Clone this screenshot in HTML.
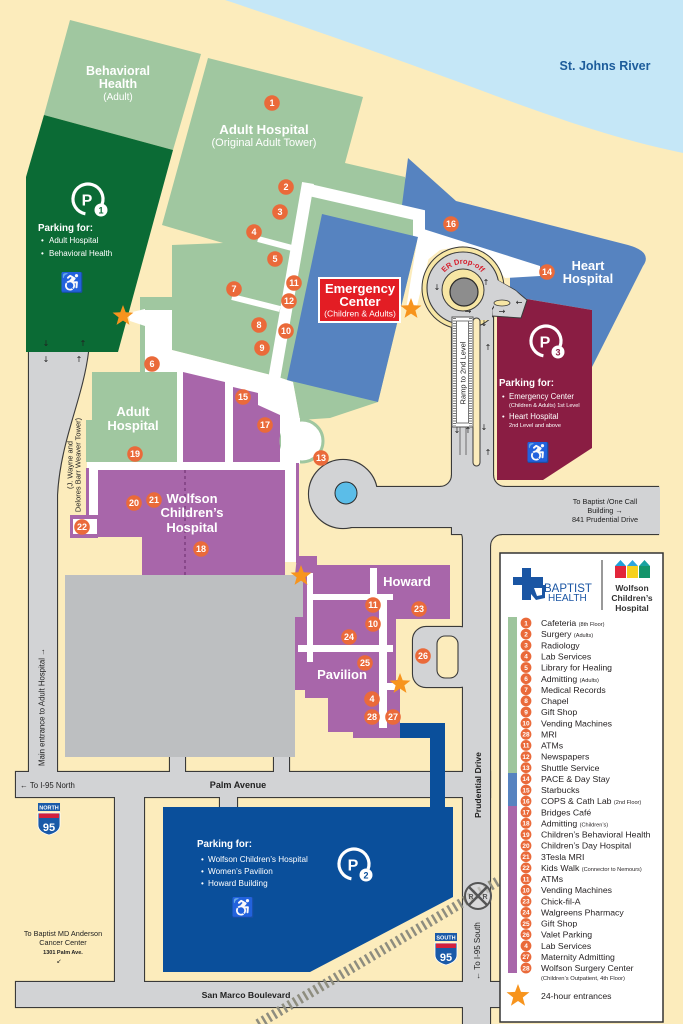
<!DOCTYPE html>
<html><head><meta charset="utf-8"><style>
html,body{margin:0;padding:0;background:#fcecbc;}
svg{display:block}
text{font-family:"Liberation Sans",Arial,sans-serif}
.n{font-size:9px;font-weight:bold;fill:#fff;text-anchor:middle}
.w{fill:#fff;font-weight:bold;text-anchor:middle}
.li{font-size:8.7px;fill:#231f20}
.ln{font-size:6.5px;font-weight:bold;fill:#fff;text-anchor:middle}
.sm{font-size:5.6px}
.ar{font-size:8px;fill:#222;font-family:"DejaVu Sans",sans-serif}
</style></head><body>
<svg width="683" height="1024" viewBox="0 0 683 1024" xmlns="http://www.w3.org/2000/svg">
<rect width="683" height="1024" fill="#fcecbc"/>
<path d="M225,0 C300,25 400,60 480,90 S620,140 683,153 L683,0 Z" fill="#c5e7f7"/>
<text x="605" y="70" text-anchor="middle" font-size="12.5" font-weight="bold" fill="#1d5c9b">St. Johns River</text>

<!-- ROADS: stroke pass -->
<g fill="#d2d3d5" stroke="#3a3a3a" stroke-width="2.2">
<path d="M29,352 L88,352 C82,400 60,440 57,495 L57,785 L29,785 Z"/>
<rect x="16" y="772" width="474" height="25"/>
<rect x="16" y="982" width="484" height="25"/>
<rect x="115" y="790" width="29" height="200"/>
<rect x="463" y="500" width="27" height="530"/>
<rect x="452" y="487" width="206" height="47"/>
<rect x="452" y="295" width="41" height="200"/>
<circle cx="343" cy="494" r="34"/>
<rect x="343" y="487" width="120" height="40"/>
<rect x="170" y="750" width="15" height="25"/>
<rect x="274" y="750" width="15" height="25"/>
<rect x="220" y="794" width="17" height="16"/>
<rect x="413" y="627" width="60" height="60" rx="13"/>
<path d="M440,487 A12,12 0 0 0 452,475 L452,487 Z"/>
<path d="M493,475 A12,12 0 0 0 505,487 L493,487 Z"/>
<path d="M451,527 A12,12 0 0 1 463,539 L463,527 Z"/>
<path d="M490,546 A12,12 0 0 1 502,534 L490,534 Z"/>
</g>
<g fill="#d2d3d5" stroke="none">
<path d="M29,352 L88,352 C82,400 60,440 57,495 L57,785 L29,785 Z"/>
<rect x="16" y="772" width="474" height="25"/>
<rect x="16" y="982" width="484" height="25"/>
<rect x="115" y="790" width="29" height="200"/>
<rect x="463" y="500" width="27" height="530"/>
<rect x="452" y="487" width="208" height="47"/>
<rect x="452" y="295" width="41" height="200"/>
<circle cx="343" cy="494" r="34"/>
<rect x="343" y="487" width="120" height="40"/>
<rect x="170" y="750" width="15" height="25"/>
<rect x="274" y="750" width="15" height="25"/>
<rect x="220" y="794" width="17" height="16"/>
<rect x="413" y="627" width="60" height="60" rx="13"/>
<path d="M440,487 A12,12 0 0 0 452,475 L452,487 Z"/>
<path d="M493,475 A12,12 0 0 0 505,487 L493,487 Z"/>
<path d="M451,527 A12,12 0 0 1 463,539 L463,527 Z"/>
<path d="M490,546 A12,12 0 0 1 502,534 L490,534 Z"/>
</g>
<rect x="437" y="636" width="21" height="42" rx="8" fill="#fcecbc" stroke="#3a3a3a" stroke-width="1.1"/>
<circle cx="346" cy="493" r="11" fill="#5bbde8" stroke="#2a2a2a" stroke-width="1"/>

<!-- railroad -->
<line x1="258" y1="1024" x2="500" y2="880" stroke="#8e8d7f" stroke-width="10" stroke-dasharray="2.5 3.5"/>
<g transform="translate(478,896)">
<circle r="13" fill="#dcdcdc" fill-opacity="0.6" stroke="#555" stroke-width="2"/>
<line x1="-9" y1="-9" x2="9" y2="9" stroke="#555" stroke-width="2.5"/>
<line x1="9" y1="-9" x2="-9" y2="9" stroke="#555" stroke-width="2.5"/>
<text x="-7" y="3" font-size="7" font-weight="bold" fill="#555" text-anchor="middle">R</text>
<text x="7" y="3" font-size="7" font-weight="bold" fill="#555" text-anchor="middle">R</text>
</g>

<!-- BUILDINGS -->
<polygon points="70,20 201,54 173,150 44,115" fill="#a0c7a0"/>
<polygon points="44,115 173,150 118,352 26,352 26,177" fill="#0b6b35"/>
<polygon points="208,58 363,97 345,163 405,177 418,237 378,402 330,418 300,420 293,382 275,376 172,350 172,245 223,243 162,225" fill="#a0c7a0"/>
<rect x="140" y="297" width="32" height="75" fill="#a0c7a0"/>
<polygon points="145,310 172,310 172,350 275,376 293,382 300,420 297,562 285,562 285,470 98,470 98,517 87,517 87,462 145,462" fill="#fff"/>
<polygon points="128,313 145,309 145,326 130,321" fill="#fff"/>
<polygon points="92,372 177,372 177,462 86,462 86,420 92,420" fill="#a0c7a0"/>
<rect x="70" y="515" width="28" height="23" fill="#a866aa"/>
<rect x="73" y="519" width="24" height="15" fill="#fff"/>
<rect x="86" y="468" width="3" height="50" fill="#a866aa"/>
<polygon points="183,372 225,382 225,462 183,462" fill="#a866aa"/>
<polygon points="233,387 258,393 258,405 280,415 280,462 233,462" fill="#a866aa"/>
<circle cx="302" cy="441" r="21" fill="#fff" stroke="#a0c7a0" stroke-width="3"/>
<rect x="281" y="418" width="19" height="46" fill="#fff"/>
<polygon points="98,470 285,470 285,575 142,575 142,537 98,537" fill="#a866aa"/>
<line x1="185" y1="470" x2="185" y2="575" stroke="#7d3f80" stroke-width="1.5" stroke-dasharray="3 3"/>
<rect x="296" y="463" width="3" height="100" fill="#a866aa"/>

<!-- Howard / Pavilion -->
<polygon points="297,556 317,556 317,565 450,565 450,619 396,619 396,680 400,680 400,738 353,738 353,732 328,732 328,698 305,698 305,690 295,690 295,575" fill="#a866aa"/>
<g fill="#fff">
<rect x="307" y="573" width="6" height="89"/>
<rect x="313" y="594" width="80" height="6"/>
<rect x="370" y="568" width="7" height="32"/>
<rect x="298" y="645" width="95" height="7"/>
<rect x="379" y="600" width="8" height="128"/>
<rect x="387" y="683" width="10" height="7"/>
</g>
<polygon points="65,575 303,575 303,617 295,617 295,757 65,757" fill="#bdbfc1"/>

<!-- Heart hospital -->
<path d="M408,158 L456,201 L628,245 Q653,252 643,266 L592,367 L592,310 L515,297 L510,287 L510,270 L540,267 L422,233 L402,205 Z" fill="#5683c0"/>
<!-- white corridors -->
<polyline points="305,189 419,215 419,240" fill="none" stroke="#fff" stroke-width="12" stroke-linejoin="miter"/>
<line x1="308" y1="183" x2="274" y2="380" stroke="#fff" stroke-width="12"/>
<line x1="258" y1="239" x2="292" y2="248" stroke="#fff" stroke-width="6"/>
<line x1="232" y1="297" x2="280" y2="309" stroke="#fff" stroke-width="6"/>
<polygon points="414,226 540,266 540,276 505,278 490,260 463,246 440,250 425,262 418,245" fill="#fff"/>
<polygon points="418,236 433,241 416,310 406,309" fill="#fff"/>
<!-- ER -->
<polygon points="322,214 418,237 378,402 287,380" fill="#5683c0"/>
<rect x="319" y="278" width="81" height="44" fill="#e31d24" stroke="#fff" stroke-width="2"/>
<text x="360" y="293" class="w" font-size="13">Emergency</text>
<text x="360" y="306" class="w" font-size="13">Center</text>
<text x="360" y="316.5" fill="#fff" font-size="8.6" text-anchor="middle">(Children &amp; Adults)</text>

<!-- P3 -->
<polygon points="497,294 592,310 592,448 543,480 497,480" fill="#8a1d43"/>

<!-- ER loop -->
<circle cx="463" cy="288" r="41" fill="#f7e6a4" stroke="#3a3a3a" stroke-width="1"/>
<polygon points="490,276 515,290 527,300 521,318 492,316" fill="#d2d3d5" stroke="#3a3a3a" stroke-width="1"/>
<circle cx="463" cy="288" r="36" fill="#d2d3d5" stroke="#3a3a3a" stroke-width="1.1"/>
<rect x="453" y="298" width="39" height="22" fill="#d2d3d5"/>
<polygon points="494,278 516,291 526,301 520,316 494,314" fill="#d2d3d5"/>
<ellipse cx="502" cy="303" rx="8" ry="3" fill="#f7e6a4" stroke="#3a3a3a" stroke-width="0.8"/>
<circle cx="463" cy="290" r="21" fill="#f7e6a4" stroke="#3a3a3a" stroke-width="1"/>
<circle cx="464" cy="292" r="14" fill="#8d8d8d" stroke="#2a2a2a" stroke-width="1.2"/>
<path id="erarc" d="M440.4,279.8 A24,24 0 0 1 485.6,279.8" fill="none"/>
<text font-size="7.5" font-weight="bold" fill="#d6202e"><textPath href="#erarc" startOffset="50%" text-anchor="middle">ER Drop-off</textPath></text>
<rect x="473" y="318" width="7" height="148" rx="3.5" fill="#fcecbc" stroke="#3a3a3a" stroke-width="1"/>
<rect x="452" y="317" width="21" height="110" fill="#fff" stroke="#555" stroke-width="1"/>
<line x1="454.5" y1="318" x2="454.5" y2="426" stroke="#777" stroke-width="3" stroke-dasharray="1 1.5"/>
<line x1="470.5" y1="318" x2="470.5" y2="426" stroke="#777" stroke-width="3" stroke-dasharray="1 1.5"/>
<rect x="456.5" y="321" width="12" height="102" fill="#fff" stroke="#555" stroke-width="0.8"/>
<text transform="translate(465.5,373) rotate(-90)" font-size="7.5" text-anchor="middle" fill="#222">Ramp to 2nd Level</text>
<line x1="460" y1="427" x2="460" y2="455" stroke="#555" stroke-width="0.8"/>
<line x1="466" y1="427" x2="466" y2="455" stroke="#555" stroke-width="0.8"/>
<text x="437" y="290" class="ar" text-anchor="middle">↓</text>
<text x="486" y="285" class="ar" text-anchor="middle">↑</text>
<text x="468" y="314" class="ar" text-anchor="middle">→</text>
<text x="502" y="314" class="ar" text-anchor="middle">→</text>
<text x="519" y="305" class="ar" text-anchor="middle">←</text>
<text x="484" y="326" class="ar" text-anchor="middle">↓</text>
<text x="488" y="350" class="ar" text-anchor="middle">↑</text>
<text x="484" y="430" class="ar" text-anchor="middle">↓</text>
<text x="488" y="455" class="ar" text-anchor="middle">↑</text>
<text x="457" y="433" class="ar" text-anchor="middle" font-size="6">↓</text>
<text x="468" y="433" class="ar" text-anchor="middle" font-size="6">↑</text>
<text x="46" y="346" class="ar" text-anchor="middle" font-size="6">↓</text>
<text x="83" y="346" class="ar" text-anchor="middle" font-size="6">↑</text>
<text x="46" y="362" class="ar" text-anchor="middle" font-size="6">↓</text>
<text x="79" y="362" class="ar" text-anchor="middle" font-size="6">↑</text>

<!-- P2 bridge + lot -->
<rect x="400" y="723" width="45" height="15" fill="#0a4f9b"/>
<rect x="430" y="723" width="15" height="90" fill="#0a4f9b"/>
<polygon points="163,807 453,807 453,897 310,972 163,972" fill="#0a4f9b"/>

<!-- building labels -->
<text x="118" y="75" class="w" font-size="12.5">Behavioral</text>
<text x="118" y="88" class="w" font-size="12.5">Health</text>
<text x="118" y="100" fill="#fff" font-size="10" text-anchor="middle">(Adult)</text>
<text x="264" y="134" class="w" font-size="13.2">Adult Hospital</text>
<text x="264" y="146" fill="#fff" font-size="11" text-anchor="middle">(Original Adult Tower)</text>
<text x="588" y="270" class="w" font-size="12.8">Heart</text>
<text x="588" y="283" class="w" font-size="12.8">Hospital</text>
<text x="133" y="416" class="w" font-size="13">Adult</text>
<text x="133" y="430" class="w" font-size="13">Hospital</text>
<text x="192" y="503" class="w" font-size="13">Wolfson</text>
<text x="192" y="517" class="w" font-size="13">Children’s</text>
<text x="192" y="532" class="w" font-size="13">Hospital</text>
<text x="407" y="586" class="w" font-size="13">Howard</text>
<text x="342" y="679" class="w" font-size="13">Pavilion</text>

<!-- P1 -->
<path d="M102.1,204.1 A15,15 0 1 0 85.4,213.8" fill="none" stroke="#fff" stroke-width="3.2"/>
<text x="87" y="205.5" class="w" font-size="16">P</text>
<circle cx="101" cy="210" r="6.5" fill="#fff"/>
<text x="101" y="213.3" font-size="9" font-weight="bold" fill="#0b6b35" text-anchor="middle">1</text>
<text x="38" y="231" fill="#fff" font-size="9.8" font-weight="bold">Parking for:</text>
<text x="41" y="243" fill="#fff" font-size="8">•</text><text x="49" y="243" fill="#fff" font-size="8">Adult Hospital</text>
<text x="41" y="256" fill="#fff" font-size="8">•</text><text x="49" y="256" fill="#fff" font-size="8">Behavioral Health</text>
<text x="72" y="289" fill="#fff" font-size="19" text-anchor="middle" font-family="DejaVu Sans,sans-serif">♿</text>

<!-- P3 -->
<path d="M560.1,346.1 A15,15 0 1 0 543.4,355.8" fill="none" stroke="#fff" stroke-width="3.2"/>
<text x="545" y="347.5" class="w" font-size="16">P</text>
<circle cx="558" cy="352" r="6.5" fill="#fff"/>
<text x="558" y="355.3" font-size="9" font-weight="bold" fill="#8a1d43" text-anchor="middle">3</text>
<text x="499" y="386" fill="#fff" font-size="9.8" font-weight="bold">Parking for:</text>
<text x="502" y="399" fill="#fff" font-size="7.5">•</text><text x="509" y="399" fill="#fff" font-size="7.8">Emergency Center</text>
<text x="509" y="407" fill="#fff" font-size="5.6">(Children &amp; Adults) 1st Level</text>
<text x="502" y="419" fill="#fff" font-size="7.5">•</text><text x="509" y="419" fill="#fff" font-size="7.8">Heart Hospital</text>
<text x="509" y="427" fill="#fff" font-size="5.6">2nd Level and above</text>
<text x="538" y="459" fill="#fff" font-size="19" text-anchor="middle" font-family="DejaVu Sans,sans-serif">♿</text>

<!-- P2 -->
<path d="M368.1,869.1 A15,15 0 1 0 351.4,878.8" fill="none" stroke="#fff" stroke-width="3.2"/>
<text x="353" y="870.5" class="w" font-size="16">P</text>
<circle cx="366" cy="875" r="6.5" fill="#fff"/>
<text x="366" y="878.3" font-size="9" font-weight="bold" fill="#0a4f9b" text-anchor="middle">2</text>
<text x="197" y="847" fill="#fff" font-size="9.8" font-weight="bold">Parking for:</text>
<text x="201" y="862" fill="#fff" font-size="8">•</text><text x="208" y="862" fill="#fff" font-size="8.2">Wolfson Children’s Hospital</text>
<text x="201" y="874" fill="#fff" font-size="8">•</text><text x="208" y="874" fill="#fff" font-size="8.2">Women’s Pavilion</text>
<text x="201" y="886" fill="#fff" font-size="8">•</text><text x="208" y="886" fill="#fff" font-size="8.2">Howard Building</text>
<text x="243" y="914" fill="#fff" font-size="19" text-anchor="middle" font-family="DejaVu Sans,sans-serif">♿</text>

<!-- stars -->
<g fill="#f7941d">
<polygon transform="translate(123,316) scale(1.1)" points="0,-10 2.47,-3.4 9.51,-3.09 3.99,1.3 5.88,8.09 0,4.2 -5.88,8.09 -3.99,1.3 -9.51,-3.09 -2.47,-3.4"/>
<polygon transform="translate(411,309) scale(1.1)" points="0,-10 2.47,-3.4 9.51,-3.09 3.99,1.3 5.88,8.09 0,4.2 -5.88,8.09 -3.99,1.3 -9.51,-3.09 -2.47,-3.4"/>
<polygon transform="translate(301,576) scale(1.1)" points="0,-10 2.47,-3.4 9.51,-3.09 3.99,1.3 5.88,8.09 0,4.2 -5.88,8.09 -3.99,1.3 -9.51,-3.09 -2.47,-3.4"/>
<polygon transform="translate(400,684) scale(1.1)" points="0,-10 2.47,-3.4 9.51,-3.09 3.99,1.3 5.88,8.09 0,4.2 -5.88,8.09 -3.99,1.3 -9.51,-3.09 -2.47,-3.4"/>
</g>

<!-- number circles -->
<g fill="#ea6a3a">
<circle cx="272" cy="103" r="7.8"/><circle cx="286" cy="187" r="7.8"/><circle cx="280" cy="212" r="7.8"/>
<circle cx="254" cy="232" r="7.8"/><circle cx="275" cy="259" r="7.8"/><circle cx="294" cy="283" r="7.8"/>
<circle cx="234" cy="289" r="7.8"/><circle cx="289" cy="301" r="7.8"/><circle cx="259" cy="325" r="7.8"/>
<circle cx="286" cy="331" r="7.8"/><circle cx="262" cy="348" r="7.8"/><circle cx="152" cy="364" r="7.8"/>
<circle cx="243" cy="397" r="7.8"/><circle cx="265" cy="425" r="7.8"/><circle cx="135" cy="454" r="7.8"/>
<circle cx="321" cy="458" r="7.8"/><circle cx="134" cy="503" r="7.8"/><circle cx="154" cy="500" r="7.8"/>
<circle cx="82" cy="527" r="7.8"/><circle cx="201" cy="549" r="7.8"/><circle cx="451" cy="224" r="7.8"/>
<circle cx="547" cy="272" r="7.8"/><circle cx="373" cy="605" r="7.8"/><circle cx="373" cy="624" r="7.8"/>
<circle cx="419" cy="609" r="7.8"/><circle cx="349" cy="637" r="7.8"/><circle cx="365" cy="663" r="7.8"/>
<circle cx="423" cy="656" r="7.8"/><circle cx="372" cy="699" r="7.8"/><circle cx="372" cy="717" r="7.8"/>
<circle cx="393" cy="717" r="7.8"/>
</g>
<g class="n">
<text x="272" y="106.2" class="n">1</text><text x="286" y="190.2" class="n">2</text><text x="280" y="215.2" class="n">3</text>
<text x="254" y="235.2" class="n">4</text><text x="275" y="262.2" class="n">5</text><text x="294" y="286.2" class="n">11</text>
<text x="234" y="292.2" class="n">7</text><text x="289" y="304.2" class="n">12</text><text x="259" y="328.2" class="n">8</text>
<text x="286" y="334.2" class="n">10</text><text x="262" y="351.2" class="n">9</text><text x="152" y="367.2" class="n">6</text>
<text x="243" y="400.2" class="n">15</text><text x="265" y="428.2" class="n">17</text><text x="135" y="457.2" class="n">19</text>
<text x="321" y="461.2" class="n">13</text><text x="134" y="506.2" class="n">20</text><text x="154" y="503.2" class="n">21</text>
<text x="82" y="530.2" class="n">22</text><text x="201" y="552.2" class="n">18</text><text x="451" y="227.2" class="n">16</text>
<text x="547" y="275.2" class="n">14</text><text x="373" y="608.2" class="n">11</text><text x="373" y="627.2" class="n">10</text>
<text x="419" y="612.2" class="n">23</text><text x="349" y="640.2" class="n">24</text><text x="365" y="666.2" class="n">25</text>
<text x="423" y="659.2" class="n">26</text><text x="372" y="702.2" class="n">4</text><text x="372" y="720.2" class="n">28</text>
<text x="393" y="720.2" class="n">27</text>
</g>

<!-- road labels -->
<text transform="translate(44.7,707) rotate(-90)" font-size="7.8" fill="#222" text-anchor="middle">Main entrance to Adult Hospital →</text>
<text transform="translate(72.7,465) rotate(-90)" font-size="7.5" fill="#222" text-anchor="middle">(J. Wayne and</text>
<text transform="translate(80.7,465) rotate(-90)" font-size="7.5" fill="#222" text-anchor="middle">Delores Barr Weaver Tower)</text>
<text x="20" y="788" font-size="7.8" fill="#222">← To I-95 North</text>
<text x="238" y="788" font-size="9.1" font-weight="bold" fill="#222" text-anchor="middle">Palm Avenue</text>
<text x="246" y="998" font-size="8.7" font-weight="bold" fill="#222" text-anchor="middle">San Marco Boulevard</text>
<text transform="translate(481,785) rotate(-90)" font-size="8.6" font-weight="bold" fill="#222" text-anchor="middle">Prudential Drive</text>
<text transform="translate(480,951) rotate(-90)" font-size="8" fill="#222" text-anchor="middle">← To I-95 South</text>
<text x="63" y="936" font-size="7.3" fill="#222" text-anchor="middle">To Baptist MD Anderson</text>
<text x="63" y="945" font-size="7.3" fill="#222" text-anchor="middle">Cancer Center</text>
<text x="63" y="954" font-size="5.5" font-weight="bold" fill="#222" text-anchor="middle">1301 Palm Ave.</text>
<text x="59" y="963" font-size="6" fill="#222" text-anchor="middle" font-family="DejaVu Sans,sans-serif">↙</text>
<text x="605" y="504" font-size="7.3" fill="#222" text-anchor="middle">To Baptist /One Call</text>
<text x="605" y="513" font-size="7.3" fill="#222" text-anchor="middle">Building    →</text>
<text x="605" y="522" font-size="7.3" fill="#222" text-anchor="middle">841 Prudential Drive</text>

<!-- I-95 shields -->
<g transform="translate(38,803)">
<rect x="0" y="0" width="22" height="8" fill="#1a5aa8"/>
<text x="11" y="6.3" font-size="5.5" font-weight="bold" fill="#fff" text-anchor="middle">NORTH</text>
<path d="M0,10 L22,10 L22,22 Q22,29 11,32 Q0,29 0,22 Z" fill="#1a5aa8" stroke="#fff" stroke-width="0.8"/>
<rect x="1" y="10.5" width="20" height="4.5" fill="#d4213d"/>
<text x="11" y="28" font-size="11" font-weight="bold" fill="#fff" text-anchor="middle">95</text>
</g>
<g transform="translate(435,933)">
<rect x="0" y="0" width="22" height="8" fill="#1a5aa8"/>
<text x="11" y="6.3" font-size="5.5" font-weight="bold" fill="#fff" text-anchor="middle">SOUTH</text>
<path d="M0,10 L22,10 L22,22 Q22,29 11,32 Q0,29 0,22 Z" fill="#1a5aa8" stroke="#fff" stroke-width="0.8"/>
<rect x="1" y="10.5" width="20" height="4.5" fill="#d4213d"/>
<text x="11" y="28" font-size="11" font-weight="bold" fill="#fff" text-anchor="middle">95</text>
</g>

<!-- LEGEND -->
<rect x="500" y="553" width="163" height="469" fill="#fff" stroke="#333" stroke-width="1.5"/>
<g fill="#1a55a3">
<rect x="522" y="568" width="9" height="32"/>
<rect x="513" y="577" width="30" height="8"/>
<path d="M531,585 L545,585 L545,598 L536,600 L531,594 Z"/>
</g>
<path d="M534,588 L542,588 L542,595 L537,596 Z" fill="#fff"/>
<text x="544" y="592" font-family="Liberation Serif,serif" font-size="11.5" fill="#1a55a3">BAPTIST</text>
<text x="548" y="601" font-family="Liberation Serif,serif" font-size="10" fill="#1a55a3">HEALTH</text>
<line x1="602" y1="560" x2="602" y2="610" stroke="#333" stroke-width="1"/>
<polygon points="615,566 620.5,560 626,566" fill="#1fa0d8"/><rect x="615" y="566" width="11" height="12" fill="#e2263a"/>
<polygon points="627,566 632.5,560 638,566" fill="#2ba6de"/><rect x="627" y="566" width="11" height="12" fill="#f5d11c"/>
<polygon points="639,566 644.5,560 650,566" fill="#1aa3a0"/><rect x="639" y="566" width="11" height="12" fill="#14956b"/>
<text x="632" y="591" font-size="8.5" font-weight="bold" fill="#333" text-anchor="middle">Wolfson</text>
<text x="632" y="601" font-size="8.5" font-weight="bold" fill="#333" text-anchor="middle">Children’s</text>
<text x="632" y="611" font-size="8.5" font-weight="bold" fill="#333" text-anchor="middle">Hospital</text>

<rect x="508" y="617" width="9" height="156" fill="#9ec59d"/>
<rect x="508" y="773" width="9" height="33" fill="#5683c0"/>
<rect x="508" y="806" width="9" height="167" fill="#a866aa"/>

<g fill="#ea6a3a">
<circle cx="526" cy="623" r="5.4"/><circle cx="526" cy="634.1" r="5.4"/><circle cx="526" cy="645.3" r="5.4"/>
<circle cx="526" cy="656.4" r="5.4"/><circle cx="526" cy="667.5" r="5.4"/><circle cx="526" cy="678.7" r="5.4"/>
<circle cx="526" cy="689.8" r="5.4"/><circle cx="526" cy="700.9" r="5.4"/><circle cx="526" cy="712" r="5.4"/>
<circle cx="526" cy="723.2" r="5.4"/><circle cx="526" cy="734.3" r="5.4"/><circle cx="526" cy="745.4" r="5.4"/>
<circle cx="526" cy="756.6" r="5.4"/><circle cx="526" cy="767.7" r="5.4"/><circle cx="526" cy="778.8" r="5.4"/>
<circle cx="526" cy="790" r="5.4"/><circle cx="526" cy="801.1" r="5.4"/><circle cx="526" cy="812.2" r="5.4"/>
<circle cx="526" cy="823.3" r="5.4"/><circle cx="526" cy="834.5" r="5.4"/><circle cx="526" cy="845.6" r="5.4"/>
<circle cx="526" cy="856.7" r="5.4"/><circle cx="526" cy="867.9" r="5.4"/><circle cx="526" cy="879" r="5.4"/>
<circle cx="526" cy="890.1" r="5.4"/><circle cx="526" cy="901.3" r="5.4"/><circle cx="526" cy="912.4" r="5.4"/>
<circle cx="526" cy="923.5" r="5.4"/><circle cx="526" cy="934.6" r="5.4"/><circle cx="526" cy="945.8" r="5.4"/>
<circle cx="526" cy="956.9" r="5.4"/><circle cx="526" cy="968" r="5.4"/>
</g>
<g>
<text x="526" y="625.3" class="ln">1</text><text x="526" y="636.4" class="ln">2</text><text x="526" y="647.6" class="ln">3</text>
<text x="526" y="658.7" class="ln">4</text><text x="526" y="669.8" class="ln">5</text><text x="526" y="681" class="ln">6</text>
<text x="526" y="692.1" class="ln">7</text><text x="526" y="703.2" class="ln">8</text><text x="526" y="714.3" class="ln">9</text>
<text x="526" y="725.5" class="ln">10</text><text x="526" y="736.6" class="ln">28</text><text x="526" y="747.7" class="ln">11</text>
<text x="526" y="758.9" class="ln">12</text><text x="526" y="770" class="ln">13</text><text x="526" y="781.1" class="ln">14</text>
<text x="526" y="792.3" class="ln">15</text><text x="526" y="803.4" class="ln">16</text><text x="526" y="814.5" class="ln">17</text>
<text x="526" y="825.6" class="ln">18</text><text x="526" y="836.8" class="ln">19</text><text x="526" y="847.9" class="ln">20</text>
<text x="526" y="859" class="ln">21</text><text x="526" y="870.2" class="ln">22</text><text x="526" y="881.3" class="ln">11</text>
<text x="526" y="892.4" class="ln">10</text><text x="526" y="903.6" class="ln">23</text><text x="526" y="914.7" class="ln">24</text>
<text x="526" y="925.8" class="ln">25</text><text x="526" y="936.9" class="ln">26</text><text x="526" y="948.1" class="ln">4</text>
<text x="526" y="959.2" class="ln">27</text><text x="526" y="970.3" class="ln">28</text>
</g>
<g class="li">
<text x="541" y="626.1" class="li">Cafeteria <tspan class="sm">(8th Floor)</tspan></text>
<text x="541" y="637.2" class="li">Surgery <tspan class="sm">(Adults)</tspan></text>
<text x="541" y="648.4" class="li">Radiology</text>
<text x="541" y="659.5" class="li">Lab Services</text>
<text x="541" y="670.6" class="li">Library for Healing</text>
<text x="541" y="681.8" class="li">Admitting <tspan class="sm">(Adults)</tspan></text>
<text x="541" y="692.9" class="li">Medical Records</text>
<text x="541" y="704" class="li">Chapel</text>
<text x="541" y="715.1" class="li">Gift Shop</text>
<text x="541" y="726.3" class="li">Vending Machines</text>
<text x="541" y="737.4" class="li">MRI</text>
<text x="541" y="748.5" class="li">ATMs</text>
<text x="541" y="759.7" class="li">Newspapers</text>
<text x="541" y="770.8" class="li">Shuttle Service</text>
<text x="541" y="781.9" class="li">PACE &amp; Day Stay</text>
<text x="541" y="793.1" class="li">Starbucks</text>
<text x="541" y="804.2" class="li">COPS &amp; Cath Lab <tspan class="sm">(2nd Floor)</tspan></text>
<text x="541" y="815.3" class="li">Bridges Café</text>
<text x="541" y="826.4" class="li">Admitting <tspan class="sm">(Children’s)</tspan></text>
<text x="541" y="837.6" class="li">Children’s Behavioral Health</text>
<text x="541" y="848.7" class="li">Children’s Day Hospital</text>
<text x="541" y="859.8" class="li">3Tesla MRI</text>
<text x="541" y="871" class="li">Kids Walk <tspan class="sm">(Connector to Nemours)</tspan></text>
<text x="541" y="882.1" class="li">ATMs</text>
<text x="541" y="893.2" class="li">Vending Machines</text>
<text x="541" y="904.4" class="li">Chick-fil-A</text>
<text x="541" y="915.5" class="li">Walgreens Pharmacy</text>
<text x="541" y="926.6" class="li">Gift Shop</text>
<text x="541" y="937.7" class="li">Valet Parking</text>
<text x="541" y="948.9" class="li">Lab Services</text>
<text x="541" y="960" class="li">Maternity Admitting</text>
<text x="541" y="971.1" class="li">Wolfson Surgery Center</text>
<text x="541" y="980" font-size="5.8" fill="#231f20">(Children’s Outpatient, 4th Floor)</text>
</g>
<polygon transform="translate(518,996) scale(1.2)" fill="#f7941d" points="0,-10 2.47,-3.4 9.51,-3.09 3.99,1.3 5.88,8.09 0,4.2 -5.88,8.09 -3.99,1.3 -9.51,-3.09 -2.47,-3.4"/>
<text x="541" y="999" class="li">24-hour entrances</text>
</svg>
</body></html>
